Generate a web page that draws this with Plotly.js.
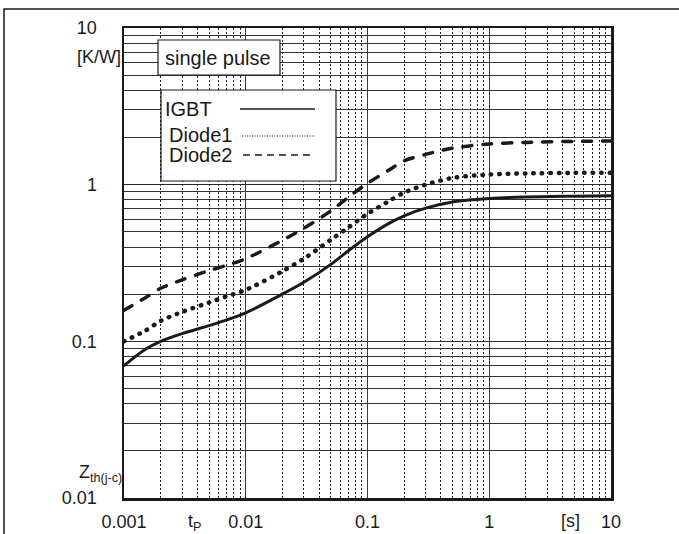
<!DOCTYPE html>
<html>
<head>
<meta charset="utf-8">
<script src="https://cdn.plot.ly/plotly-3.0.1.min.js"></script>
<style>
html,body{margin:0;padding:0;background:#fff;}
#chart{width:679px;height:534px;}
#chart .scatterlayer .js-line{stroke-linecap:round;}
</style>
</head>
<body>
<div id="chart"></div>
<script>
// Pulse duration t_P [s]
const tP = [0.001, 0.0015, 0.002, 0.003, 0.005, 0.007, 0.01, 0.02, 0.03, 0.05, 0.07, 0.1, 0.15, 0.2, 0.3, 0.5, 1, 2, 5, 10];
// Thermal impedance Zth(j-c) [K/W]
const zIGBT   = [0.07, 0.089, 0.1, 0.112, 0.126, 0.137, 0.152, 0.2, 0.238, 0.31, 0.38, 0.465, 0.566, 0.633, 0.708, 0.775, 0.815, 0.835, 0.845, 0.85];
const zDiode1 = [0.1, 0.117, 0.135, 0.154, 0.177, 0.194, 0.213, 0.28, 0.337, 0.445, 0.535, 0.652, 0.785, 0.89, 1.0, 1.105, 1.16, 1.18, 1.19, 1.19];
const zDiode2 = [0.158, 0.19, 0.218, 0.247, 0.283, 0.306, 0.337, 0.442, 0.527, 0.68, 0.835, 1.02, 1.24, 1.42, 1.56, 1.71, 1.82, 1.86, 1.89, 1.9];

const seriesNames = ['IGBT', 'Diode1', 'Diode2'];
const xTickVals = [0.001, 0.01, 0.1, 1, 10];
const xTickText = ['0.001', '0.01', '0.1', '1', '10'];
const yTickVals = [0.01, 0.1, 1, 10];
const yTickText = ['0.01', '0.1', '1', '10'];

// minor grid positions (2..9 per decade)
function minorVals(d0, d1) {
  const out = [];
  for (let d = d0; d < d1; d++) for (let m = 2; m <= 9; m++) out.push(m * Math.pow(10, d));
  return out;
}

const FONT = '"Liberation Sans", Arial, Helvetica, sans-serif';

const traces = [
  {x: tP, y: zIGBT, name: seriesNames[0], mode: 'lines',
   line: {color: '#1a1a1a', width: 3, shape: 'spline', smoothing: 0.8}},
  {x: tP, y: zDiode1, name: seriesNames[1], mode: 'lines',
   line: {color: '#1a1a1a', width: 4.5, dash: '0.5px,8px', shape: 'spline', smoothing: 0.8}},
  {x: tP, y: zDiode2, name: seriesNames[2], mode: 'lines',
   line: {color: '#1a1a1a', width: 3.5, dash: '9px,11px', shape: 'spline', smoothing: 0.8}}
];

// pixel -> paper helpers (plot area: x 124..611, y 28..498)
const L = 124, R = 611, T = 28, B = 498;
const px = v => (v - L) / (R - L);
const py = v => (B - v) / (B - T);

const layout = {
  width: 679, height: 534,
  margin: {l: L, r: 679 - R, t: T, b: 534 - B, pad: 0},
  paper_bgcolor: '#fff', plot_bgcolor: '#fff',
  showlegend: false,
  font: {family: FONT, size: 18, color: '#1a1a1a'},
  xaxis: {
    type: 'log', range: [-3, 1],
    tickmode: 'array', tickvals: xTickVals, ticktext: xTickText,
    ticks: 'outside', ticklen: 6, tickcolor: 'rgba(0,0,0,0)',
    showgrid: true, gridcolor: '#3a3a3a', gridwidth: 1,
    showline: true, linecolor: '#1a1a1a', linewidth: 2.5, mirror: true,
    zeroline: false,
    minor: {tickmode: 'array', tickvals: minorVals(-3, 1), showgrid: true,
            gridcolor: '#222', gridwidth: 1, griddash: '2px,2px', ticks: ''},
    tickfont: {family: FONT, size: 18, color: '#1a1a1a'}
  },
  yaxis: {
    type: 'log', range: [-2, 1],
    tickmode: 'array', tickvals: yTickVals, ticktext: yTickText,
    ticks: 'outside', ticklen: 21, tickcolor: 'rgba(0,0,0,0)',
    showgrid: true, gridcolor: '#2a2a2a', gridwidth: 1,
    showline: true, linecolor: '#1a1a1a', linewidth: 2.5, mirror: true,
    zeroline: false,
    minor: {tickmode: 'array', tickvals: minorVals(-2, 1), showgrid: true,
            gridcolor: '#333', gridwidth: 1, ticks: ''},
    tickfont: {family: FONT, size: 18, color: '#1a1a1a'}
  },
  shapes: [
    // outer frame
    {type: 'rect', xref: 'paper', yref: 'paper', x0: px(4), x1: px(720), y0: py(560), y1: py(9),
     line: {color: '#1a1a1a', width: 1.5}, fillcolor: 'rgba(0,0,0,0)', layer: 'below'},
    // "single pulse" box
    {type: 'rect', xref: 'paper', yref: 'paper', x0: px(158), x1: px(280), y0: py(75), y1: py(40),
     line: {color: '#1a1a1a', width: 1.2}, fillcolor: '#fff', layer: 'above'},
    // legend box
    {type: 'rect', xref: 'paper', yref: 'paper', x0: px(161), x1: px(336), y0: py(181), y1: py(90),
     line: {color: '#1a1a1a', width: 1.2}, fillcolor: '#fff', layer: 'above'},
    // legend samples
    {type: 'line', xref: 'paper', yref: 'paper', x0: px(240), x1: px(315), y0: py(109), y1: py(109),
     line: {color: '#1a1a1a', width: 1.5}, layer: 'above'},
    {type: 'line', xref: 'paper', yref: 'paper', x0: px(242), x1: px(315), y0: py(136), y1: py(136),
     line: {color: '#1a1a1a', width: 1, dash: '1px,1.5px'}, layer: 'above'},
    {type: 'line', xref: 'paper', yref: 'paper', x0: px(243), x1: px(313), y0: py(155), y1: py(155),
     line: {color: '#1a1a1a', width: 1.5, dash: '7px,5px'}, layer: 'above'}
  ],
  annotations: [
    {xref: 'paper', yref: 'paper', x: px(163), y: py(58), xanchor: 'left', yanchor: 'middle',
     text: 'single pulse', showarrow: false, font: {family: FONT, size: 20, color: '#1a1a1a'}},
    {xref: 'paper', yref: 'paper', x: px(163), y: py(109), xanchor: 'left', yanchor: 'middle',
     text: seriesNames[0], showarrow: false, font: {family: FONT, size: 20, color: '#1a1a1a'}},
    {xref: 'paper', yref: 'paper', x: px(167), y: py(135), xanchor: 'left', yanchor: 'middle',
     text: seriesNames[1], showarrow: false, font: {family: FONT, size: 20, color: '#1a1a1a'}},
    {xref: 'paper', yref: 'paper', x: px(167), y: py(155), xanchor: 'left', yanchor: 'middle',
     text: seriesNames[2], showarrow: false, font: {family: FONT, size: 20, color: '#1a1a1a'}},
    {xref: 'paper', yref: 'paper', x: px(123), y: py(57), xanchor: 'right', yanchor: 'middle',
     text: '[K/W]', showarrow: false, font: {family: FONT, size: 18, color: '#1a1a1a'}},
    {xref: 'paper', yref: 'paper', x: px(124), y: py(473), xanchor: 'right', yanchor: 'middle',
     text: 'Z<sub>th(j-c)</sub>', showarrow: false, font: {family: FONT, size: 18, color: '#1a1a1a'}},
    {xref: 'paper', yref: 'paper', x: px(194), y: py(522), xanchor: 'center', yanchor: 'middle',
     text: 't<sub>P</sub>', showarrow: false, font: {family: FONT, size: 18, color: '#1a1a1a'}},
    {xref: 'paper', yref: 'paper', x: px(570), y: py(521), xanchor: 'center', yanchor: 'middle',
     text: '[s]', showarrow: false, font: {family: FONT, size: 18, color: '#1a1a1a'}}
  ]
};

Plotly.newPlot('chart', traces, layout, {staticPlot: true, displayModeBar: false});
</script>
</body>
</html>
